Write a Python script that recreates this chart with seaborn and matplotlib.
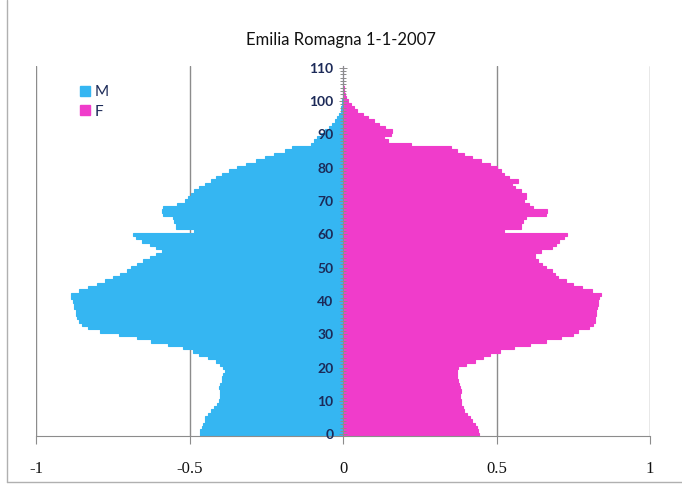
import pandas as pd
import matplotlib.pyplot as plt
import matplotlib.patches as mpatches
import seaborn as sns

# population share (%) by single year of age, Emilia Romagna 1-1-2007
ages = list(range(111))

maschi = [
    0.465, 0.465, 0.46, 0.455, 0.45, 0.45, 0.44, 0.43, 0.42, 0.41,
    0.405, 0.40, 0.40, 0.40, 0.405, 0.40, 0.395, 0.395, 0.39, 0.385,
    0.39, 0.40, 0.415, 0.44, 0.47, 0.49, 0.52, 0.57, 0.625, 0.67,
    0.73, 0.79, 0.83, 0.85, 0.86, 0.865, 0.87, 0.87, 0.875, 0.875,
    0.88, 0.885, 0.885, 0.86, 0.83, 0.80, 0.775, 0.75, 0.725, 0.705,
    0.69, 0.67, 0.65, 0.63, 0.61, 0.59, 0.61, 0.63, 0.655, 0.675,
    0.685, 0.485, 0.545, 0.545, 0.55, 0.555, 0.585, 0.59, 0.585, 0.54,
    0.515, 0.505, 0.495, 0.485, 0.47, 0.45, 0.43, 0.415, 0.395, 0.37,
    0.345, 0.315, 0.285, 0.255, 0.225, 0.19, 0.165, 0.105, 0.095, 0.085,
    0.072, 0.058, 0.047, 0.037, 0.027, 0.018, 0.012, 0.008, 0.005, 0.003,
    0.002, 0.001, 0.001, 0.001, 0.0005, 0.0005, 0.0003, 0.0003, 0.0002, 0.0002,
    0.0001,
]

femmine = [
    0.443, 0.44, 0.435, 0.43, 0.42, 0.415, 0.405, 0.395, 0.39, 0.385,
    0.385, 0.38, 0.38, 0.385, 0.38, 0.378, 0.375, 0.372, 0.37, 0.37,
    0.375, 0.40, 0.43, 0.455, 0.478, 0.512, 0.557, 0.61, 0.66, 0.71,
    0.75, 0.765, 0.80, 0.815, 0.82, 0.822, 0.825, 0.825, 0.828, 0.83,
    0.832, 0.835, 0.84, 0.81, 0.78, 0.75, 0.725, 0.70, 0.69, 0.68,
    0.66, 0.648, 0.635, 0.625, 0.625, 0.645, 0.68, 0.695, 0.705, 0.72,
    0.73, 0.525, 0.58, 0.58, 0.585, 0.595, 0.66, 0.665, 0.62, 0.605,
    0.59, 0.595, 0.595, 0.58, 0.56, 0.55, 0.57, 0.54, 0.525, 0.515,
    0.50, 0.48, 0.45, 0.42, 0.395, 0.37, 0.352, 0.22, 0.146, 0.135,
    0.155, 0.16, 0.137, 0.118, 0.10, 0.08, 0.065, 0.045, 0.035, 0.025,
    0.015, 0.01, 0.006, 0.004, 0.002, 0.001, 0.001, 0.0008, 0.0005, 0.0003,
    0.0002,
]

sessi = ["M", "F"]
colori = {"M": "#35b6f2", "F": "#f03ccb"}
xticks = [-1, -0.5, 0, 0.5, 1]
xlabels = ["-1", "-0.5", "0", "0.5", "1"]

df = pd.DataFrame({
    "age": ages * 2,
    "value": [-v for v in maschi] + femmine,
    "sex": ["M"] * len(ages) + ["F"] * len(ages),
})

sns.set_style("white")
plt.rcParams["font.family"] = ["Lato", "DejaVu Sans"]

fig = plt.figure(figsize=(6.82, 4.87), dpi=100)
ax = fig.add_axes([36 / 682, 51 / 487, 614 / 682, 370 / 487])

sns.barplot(
    data=df, x="value", y="age", hue="sex", hue_order=sessi,
    orient="h", native_scale=True, width=1, dodge=False,
    palette=colori, saturation=1, linewidth=0, legend=False, ax=ax,
)
for p in ax.patches:
    p.set_edgecolor(p.get_facecolor())
    p.set_linewidth(0.8)

ax.set_xlim(-1, 1)
ax.set_ylim(-0.5, 110.5)
ax.set_xlabel("")
ax.set_ylabel("")

# seaborn style puts the axis below the bars; the age labels must sit on top
ax.set_axisbelow(False)

# vertical gridlines (behind the bars)
for gx in [-1, -0.5, 0.5, 1]:
    ax.axvline(gx, color="#8c8c8c", lw=1, zorder=0)

# y axis on the zero line
for s in ["top", "right"]:
    ax.spines[s].set_visible(False)
ax.spines["left"].set_position(("data", 0))
ax.spines["left"].set_color("#8c8c8c")
ax.spines["bottom"].set_color("#8c8c8c")
ax.set_yticks(range(0, 111, 10))
ax.set_yticks(ages, minor=True)
ax.tick_params(axis="y", which="both", left=True, direction="inout",
               color="#8c8c8c", width=0.7)
ax.tick_params(axis="y", which="major", length=6, pad=4,
               labelsize=10, labelcolor="#1c2a58")
ax.tick_params(axis="y", which="minor", length=4)
for t in ax.get_yticklabels():
    t.set_fontweight("bold")

ax.set_xticks(xticks)
ax.set_xticklabels(xlabels, family="Liberation Serif")
ax.tick_params(axis="x", bottom=True, direction="out", length=6,
               color="#8c8c8c", labelsize=12, pad=12, labelcolor="#111111")

fig.text(341 / 682, 1 - 40 / 487, "Emilia Romagna 1-1-2007",
         ha="center", va="center", fontsize=12, color="#111111")

handles = [mpatches.Patch(color=colori[s], label=s) for s in sessi]
leg = ax.legend(handles=handles, loc="upper left", bbox_to_anchor=(0.05, 0.985),
                frameon=False, handlelength=0.6, handleheight=0.6,
                handletextpad=0.3, labelspacing=0.35, fontsize=11)
for t in leg.get_texts():
    t.set_color("#1c2a58")

# chart area border
fig.add_artist(plt.Line2D([7 / 682, 7 / 682], [5 / 487, 1], color="#b0b0b0", lw=1))
fig.add_artist(plt.Line2D([7 / 682, 1], [5 / 487, 5 / 487], color="#b0b0b0", lw=1))

fig.savefig("out.png", dpi=100)
